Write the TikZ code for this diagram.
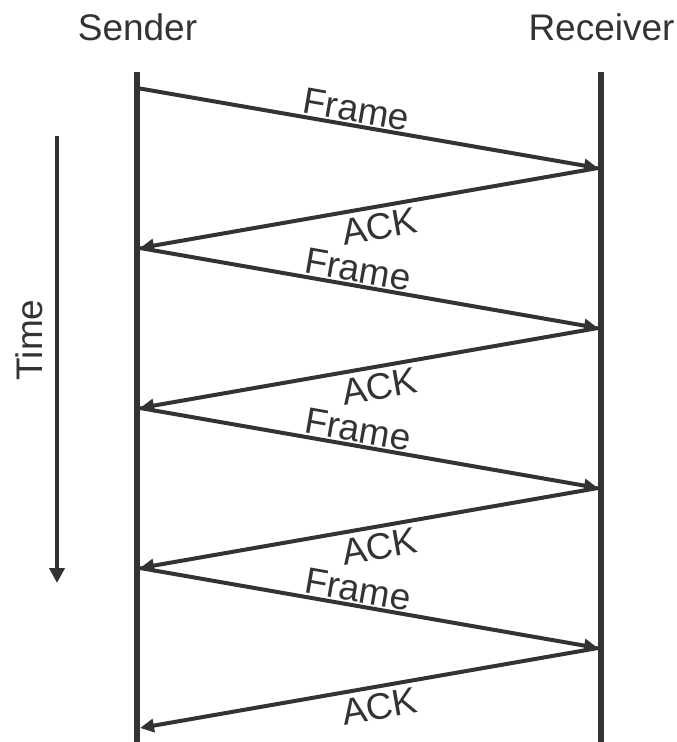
\documentclass[tikz,border=0pt]{standalone}
\usepackage{fontspec}
\setmainfont{Liberation Sans}
\usetikzlibrary{arrows.meta}
\definecolor{ink}{HTML}{333333}
\begin{document}
\begin{tikzpicture}[x=1pt,y=-1pt,
  lbl/.style={font=\fontsize{37}{44}\selectfont, text=ink, inner sep=0pt},
  lifeline/.style={draw=ink, line width=6pt},
  msg/.style={draw=ink, line width=4pt, -{Triangle[length=14pt,width=13pt]}},
  mlabel/.style={font=\fontsize{37}{44}\selectfont, text=ink, sloped, inner sep=1.5pt},
  alabel/.style={mlabel, inner sep=5pt}]
\useasboundingbox (0,0) rectangle (677,742);
% headers
\node[lbl, anchor=base] (snd) at (137.5,40) {Sender};
\node[lbl, anchor=base] (rcv) at (601.5,40) {Receiver};
\node[lbl, anchor=base, rotate=90] (time) at (42,340) {Time};
% lifelines
\coordinate (stop) at (137,72);
\coordinate (sbot) at (137,742);
\coordinate (rtop) at (600.5,72);
\coordinate (rbot) at (600.5,742);
\draw[lifeline] (stop) -- (sbot);
\draw[lifeline] (rtop) -- (rbot);
% time arrow
\coordinate (t0) at (57,136);
\coordinate (t1) at (57,583);
\draw[draw=ink, line width=4pt, -{Triangle[length=15pt,width=15pt]}] (t0) -- (t1);
% events
\coordinate (s1) at (137,88);
\coordinate (r1) at (598,168);
\coordinate (s2) at (140,248);
\coordinate (r2) at (598,328);
\coordinate (s3) at (140,408);
\coordinate (r3) at (598,488);
\coordinate (s4) at (140,568);
\coordinate (r4) at (598,648);
\coordinate (s5) at (140,728);
\draw[msg] (s1) -- node[mlabel, above, pos=0.47] (f1) {Frame} (r1);
\draw[msg] (r1) -- node[alabel, below, pos=0.485] (a1) {ACK} (s2);
\draw[msg] (s2) -- node[mlabel, above, pos=0.47] (f2) {Frame} (r2);
\draw[msg] (r2) -- node[alabel, below, pos=0.485] (a2) {ACK} (s3);
\draw[msg] (s3) -- node[mlabel, above, pos=0.47] (f3) {Frame} (r3);
\draw[msg] (r3) -- node[alabel, below, pos=0.485] (a3) {ACK} (s4);
\draw[msg] (s4) -- node[mlabel, above, pos=0.47] (f4) {Frame} (r4);
\draw[msg] (r4) -- node[alabel, below, pos=0.485] (a4) {ACK} (s5);
\end{tikzpicture}
\end{document}
